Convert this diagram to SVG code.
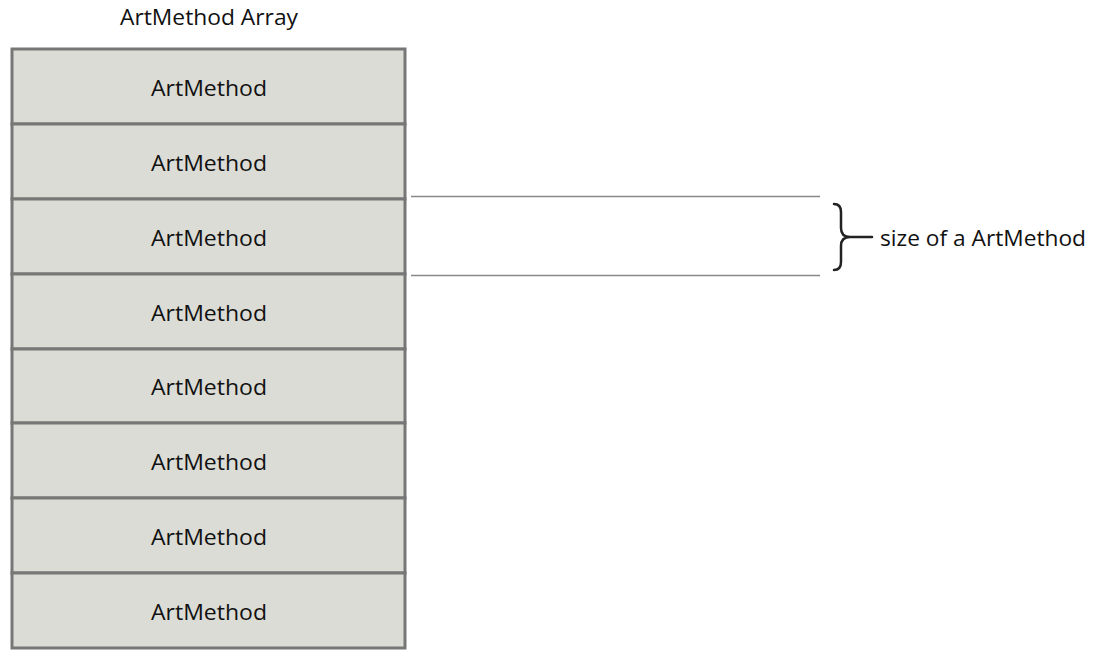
<svg xmlns="http://www.w3.org/2000/svg" width="1098" height="660" viewBox="0 0 1098 660">
<style>
text{font-family:"Open Sans","Noto Sans",sans-serif;font-size:22px;fill:#111;}
.cell{fill:#dcdcd6;stroke:#777;stroke-width:3;}
.guide{stroke:#888;stroke-width:1.5;fill:none;}
.brace{stroke:#222;stroke-width:2.5;fill:none;stroke-linecap:round;}
</style>
<rect width="1098" height="660" fill="#fff"/>
<text x="120" y="25" textLength="178" lengthAdjust="spacingAndGlyphs">ArtMethod Array</text>
<g id="cell1"><rect class="cell" x="12" y="49" width="393" height="75"/><text x="151" y="96" textLength="116" lengthAdjust="spacingAndGlyphs">ArtMethod</text></g>
<g id="cell2"><rect class="cell" x="12" y="124" width="393" height="75"/><text x="151" y="171" textLength="116" lengthAdjust="spacingAndGlyphs">ArtMethod</text></g>
<g id="cell3"><rect class="cell" x="12" y="199" width="393" height="75"/><text x="151" y="246" textLength="116" lengthAdjust="spacingAndGlyphs">ArtMethod</text></g>
<g id="cell4"><rect class="cell" x="12" y="274" width="393" height="75"/><text x="151" y="321" textLength="116" lengthAdjust="spacingAndGlyphs">ArtMethod</text></g>
<g id="cell5"><rect class="cell" x="12" y="349" width="393" height="74"/><text x="151" y="395" textLength="116" lengthAdjust="spacingAndGlyphs">ArtMethod</text></g>
<g id="cell6"><rect class="cell" x="12" y="423" width="393" height="75"/><text x="151" y="470" textLength="116" lengthAdjust="spacingAndGlyphs">ArtMethod</text></g>
<g id="cell7"><rect class="cell" x="12" y="498" width="393" height="75"/><text x="151" y="545" textLength="116" lengthAdjust="spacingAndGlyphs">ArtMethod</text></g>
<g id="cell8"><rect class="cell" x="12" y="573" width="393" height="75"/><text x="151" y="620" textLength="116" lengthAdjust="spacingAndGlyphs">ArtMethod</text></g>
<g id="connectors">
<line class="guide" x1="411" y1="196.5" x2="820" y2="196.5"/>
<line class="guide" x1="411" y1="275.5" x2="820" y2="275.5"/>
<path class="brace" d="M834,204 Q841,204 841,212 L841,228 Q841,237 850,237 Q841,237 841,246 L841,262 Q841,270 834,270 M850,237 L872,237"/>
</g>
<g id="label"><text x="880" y="246" textLength="206" lengthAdjust="spacingAndGlyphs">size of a ArtMethod</text></g>
</svg>
